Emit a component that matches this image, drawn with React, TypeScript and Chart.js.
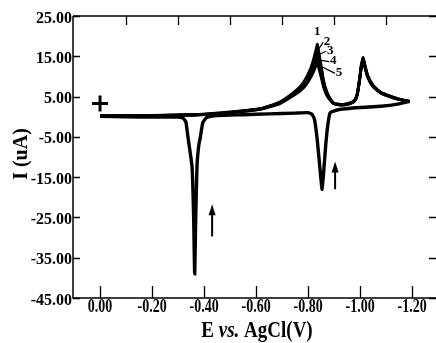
import React, { useEffect, useRef } from "react";
import { Chart, registerables } from "chart.js";
Chart.register(...registerables);

// Axis ticks
const xTicks = [0, -0.2, -0.4, -0.6, -0.8, -1.0, -1.2];
const topTicks = [-0.1, -0.3, -0.5, -0.7, -0.9, -1.1];
const yTicks = [25, 15, 5, -5, -15, -25, -35, -45];

// Cathodic (forward) sweep, 0 -> -1.19 V
const forwardE = [0, -0.1, -0.2, -0.3, -0.32, -0.33, -0.338, -0.347, -0.354, -0.36, -0.364, -0.368, -0.373, -0.38, -0.386, -0.395, -0.41, -0.45, -0.55, -0.65, -0.75, -0.8, -0.815, -0.825, -0.835, -0.846, -0.854, -0.862, -0.868, -0.875, -0.885, -0.92, -1.0, -1.08, -1.15, -1.19];
const forwardI = [0.1, 0.0, -0.1, -0.1, -0.4, -1.3, -5.0, -9.0, -12.5, -25, -39, -25, -12, -7, -5, -1.5, -0.2, 0.3, 0.5, 0.7, 0.9, 1.0, 0.6, -0.8, -5.6, -13, -18, -12, -7, -2.5, 1.0, 1.8, 2.3, 2.6, 3.2, 3.8];

// Anodic (return) sweep, -1.19 -> 0 V, cycles 1..5
const returnE = [-1.19, -1.15, -1.12, -1.08, -1.05, -1.03, -1.02, -1.012, -1.005, -0.998, -0.99, -0.98, -0.96, -0.93, -0.9, -0.885, -0.872, -0.86, -0.85, -0.842, -0.836, -0.83, -0.822, -0.81, -0.79, -0.77, -0.73, -0.69, -0.62, -0.5, -0.38, -0.2, 0];
const returnI1 = [3.8, 4.4, 5.0, 6.0, 7.8, 10.2, 12.5, 14.7, 13.0, 9.5, 6.0, 4.2, 3.4, 3.0, 3.3, 4.5, 6.2, 8.9, 12.8, 15.8, 18.0, 16.5, 14.5, 12.0, 9.3, 7.5, 5.3, 3.6, 2.1, 1.2, 0.6, 0.3, 0.2];
const returnI2 = [3.8, 4.4, 5.0, 6.0, 7.7, 10.0, 12.3, 14.5, 12.8, 9.3, 5.9, 4.1, 3.4, 3.0, 3.3, 4.4, 6.0, 8.5, 12.0, 14.8, 16.8, 15.5, 13.6, 11.3, 8.8, 7.1, 5.1, 3.5, 2.0, 1.1, 0.5, 0.3, 0.2];
const returnI3 = [3.8, 4.3, 4.9, 5.9, 7.6, 9.9, 12.1, 14.3, 12.6, 9.1, 5.8, 4.0, 3.3, 2.9, 3.2, 4.3, 5.7, 8.1, 11.2, 13.8, 15.6, 14.6, 12.8, 10.7, 8.4, 6.8, 5.0, 3.4, 2.0, 1.1, 0.5, 0.3, 0.2];
const returnI4 = [3.8, 4.3, 4.9, 5.9, 7.5, 9.8, 12.0, 14.1, 12.4, 9.0, 5.7, 4.0, 3.3, 2.9, 3.2, 4.2, 5.5, 7.7, 10.5, 12.8, 14.4, 13.6, 12.0, 10.2, 8.0, 6.6, 4.8, 3.3, 1.9, 1.0, 0.5, 0.2, 0.1];
const returnI5 = [3.8, 4.3, 4.8, 5.8, 7.4, 9.7, 11.9, 14.0, 12.3, 8.9, 5.6, 3.9, 3.2, 2.9, 3.2, 4.1, 5.3, 7.3, 9.9, 11.9, 13.2, 12.6, 11.3, 9.7, 7.7, 6.4, 4.7, 3.2, 1.9, 1.0, 0.4, 0.2, 0.1];

// Start marker "+"
const startE = [0];
const startI = [3.3];

// Cycle labels near the anodic peak
const cycleLabels = ["1", "2", "3", "4", "5"];
const labelE = [-0.835, -0.873, -0.885, -0.897, -0.919];
const labelI = [21.1, 18.7, 16.5, 13.9, 11.0];
const peakI = [18.0, 16.8, 15.6, 14.4, 13.2];

// Arrows (scan direction marks)
const arrowE = [-0.431, -0.904];
const arrowTail = [-29.7, -18.0];
const arrowHead = [-21.7, -11.1];

const SERIF = "'Liberation Serif', 'DejaVu Serif', serif";
const W = 436;
const H = 343;

function pts(xs: number[], ys: number[]) {
  return xs.map((v, i) => ({ x: v, y: ys[i] }));
}

const decorPlugin = {
  id: "decor",
  afterDraw(chart: any) {
    const { ctx, chartArea: a, scales } = chart;
    const x = scales.x;
    const y = scales.y;
    ctx.save();
    ctx.strokeStyle = "#000";
    ctx.fillStyle = "#000";
    ctx.lineWidth = 1.5;
    ctx.beginPath();
    ctx.moveTo(a.left, a.top);
    ctx.lineTo(a.left, a.bottom);
    ctx.lineTo(a.right, a.bottom);
    ctx.moveTo(a.left, a.top);
    ctx.lineTo(a.right, a.top);
    ctx.stroke();

    ctx.lineWidth = 1.3;
    ctx.beginPath();
    xTicks.forEach((v) => {
      const px = Math.round(x.getPixelForValue(v)) + 0.5;
      ctx.moveTo(px, a.bottom);
      ctx.lineTo(px, a.bottom - 12);
    });
    topTicks.forEach((v) => {
      const px = Math.round(x.getPixelForValue(v)) + 0.5;
      ctx.moveTo(px, a.top);
      ctx.lineTo(px, a.top + 9);
    });
    yTicks.forEach((v) => {
      const py = Math.round(y.getPixelForValue(v)) + 0.5;
      ctx.moveTo(a.left, py);
      ctx.lineTo(a.left + 7, py);
      ctx.moveTo(a.right, py);
      ctx.lineTo(a.right - 7, py);
    });
    ctx.stroke();

    // tick labels (tall, condensed look of the original)
    ctx.font = `bold 16px ${SERIF}`;
    ctx.textAlign = "right";
    ctx.textBaseline = "middle";
    yTicks.forEach((v) => {
      const py = y.getPixelForValue(v);
      ctx.save();
      ctx.translate(a.left - 1, py + 2);
      ctx.scale(1, 1.1);
      ctx.fillText(v.toFixed(2), 0, 0);
      ctx.restore();
    });
    ctx.font = `bold 14px ${SERIF}`;
    ctx.textAlign = "center";
    xTicks.forEach((v) => {
      const px = x.getPixelForValue(v);
      ctx.save();
      ctx.translate(px, a.bottom + 9);
      ctx.scale(1, 1.35);
      ctx.fillText(v.toFixed(2), 0, 0);
      ctx.restore();
    });

    // arrows
    arrowE.forEach((e, i) => {
      const px = x.getPixelForValue(e);
      const y0 = y.getPixelForValue(arrowTail[i]);
      const y1 = y.getPixelForValue(arrowHead[i]);
      ctx.lineWidth = 2;
      ctx.beginPath();
      ctx.moveTo(px, y0);
      ctx.lineTo(px, y1 + 8);
      ctx.stroke();
      ctx.beginPath();
      ctx.moveTo(px, y1);
      ctx.lineTo(px - 3.5, y1 + 11);
      ctx.lineTo(px + 3.5, y1 + 11);
      ctx.closePath();
      ctx.fill();
    });

    // cycle labels with leader lines
    ctx.font = `bold 13px ${SERIF}`;
    ctx.textAlign = "center";
    ctx.textBaseline = "middle";
    ctx.lineWidth = 1.2;
    cycleLabels.forEach((t, i) => {
      const lx = x.getPixelForValue(labelE[i]);
      const ly = y.getPixelForValue(labelI[i]);
      ctx.fillText(t, lx, ly);
      if (i > 0) {
        const sx = x.getPixelForValue(-0.838);
        const sy = y.getPixelForValue(peakI[i] - 0.3);
        ctx.beginPath();
        ctx.moveTo(sx, sy);
        ctx.lineTo(lx - 4, ly + 1);
        ctx.stroke();
      }
    });

    // y title
    ctx.save();
    ctx.translate(27, (a.top + a.bottom) / 2 - 3);
    ctx.rotate(-Math.PI / 2);
    ctx.font = `bold 20px ${SERIF}`;
    ctx.textAlign = "center";
    ctx.textBaseline = "alphabetic";
    ctx.fillText("I (uA)", 0, 0);
    ctx.restore();

    // x title with italic "vs."
    const parts = [
      { t: "E ", f: `bold 19px ${SERIF}` },
      { t: "vs.", f: `italic bold 19px ${SERIF}` },
      { t: " AgCl(V)", f: `bold 19px ${SERIF}` },
    ];
    let total = 0;
    parts.forEach((p) => {
      ctx.font = p.f;
      total += ctx.measureText(p.t).width;
    });
    ctx.save();
    ctx.translate(257, 337);
    ctx.scale(1, 1.2);
    let cx = -total / 2;
    ctx.textAlign = "left";
    ctx.textBaseline = "alphabetic";
    parts.forEach((p) => {
      ctx.font = p.f;
      ctx.fillText(p.t, cx, 0);
      cx += ctx.measureText(p.t).width;
    });
    ctx.restore();
    ctx.restore();
  },
};

export default function App() {
  const ref = useRef<HTMLCanvasElement>(null);
  useEffect(() => {
    if (!ref.current) return;
    const line = (data: any[], w: number) => ({
      data,
      borderColor: "#000",
      backgroundColor: "#000",
      borderWidth: w,
      pointRadius: 0,
      tension: 0.15,
      fill: false,
    });
    const chart = new Chart(ref.current, {
      type: "line",
      data: {
        datasets: [
          line(pts(forwardE, forwardI), 3.4),
          line(pts(returnE, returnI1), 2.8),
          line(pts(returnE, returnI2), 2.8),
          line(pts(returnE, returnI3), 2.8),
          line(pts(returnE, returnI4), 2.8),
          line(pts(returnE, returnI5), 2.8),
          {
            data: pts(startE, startI),
            showLine: false,
            pointStyle: "cross",
            pointRadius: 8,
            pointBorderWidth: 3,
            borderColor: "#000",
            backgroundColor: "#000",
          } as any,
        ],
      },
      options: {
        animation: false,
        responsive: false,
        devicePixelRatio: 1,
        layout: { autoPadding: false, padding: { top: 16, right: 0, left: 0, bottom: 0 } },
        plugins: { legend: { display: false }, tooltip: { enabled: false } },
        scales: {
          x: {
            type: "linear",
            reverse: true,
            min: -1.292,
            max: 0.104,
            grid: { display: false, drawTicks: false },
            border: { display: false },
            ticks: { display: false },
            afterFit: (s: any) => {
              s.height = 45;
              s.paddingLeft = 0;
              s.paddingRight = 0;
            },
          },
          y: {
            type: "linear",
            min: -45,
            max: 25,
            grid: { display: false, drawTicks: false },
            border: { display: false },
            ticks: { display: false },
            afterFit: (s: any) => {
              s.width = 73;
              s.paddingTop = 0;
              s.paddingBottom = 0;
            },
          },
        },
      },
      plugins: [decorPlugin],
    });
    return () => chart.destroy();
  }, []);
  return (
    <div style={{ position: "absolute", left: 0, top: 0, width: W, height: H }}>
      <canvas ref={ref} width={W} height={H} style={{ display: "block", width: W, height: H }} />
    </div>
  );
}
